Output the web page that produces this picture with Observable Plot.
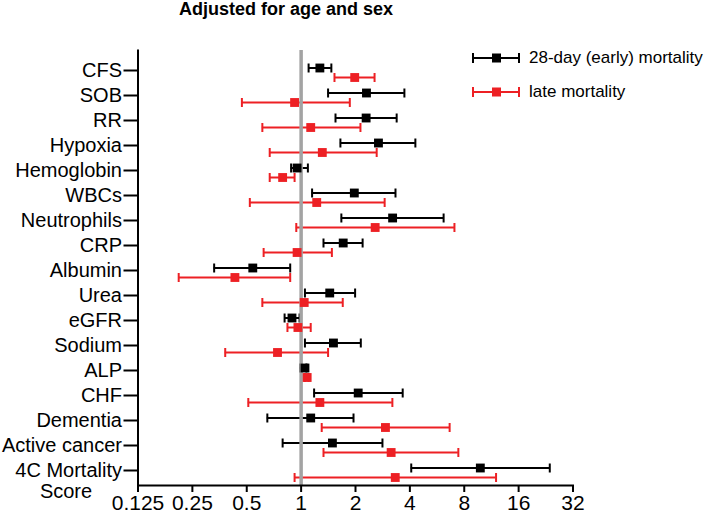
<!DOCTYPE html>
<html>
<head>
<meta charset="utf-8">
<script src="https://cdn.jsdelivr.net/npm/d3@7"></script>
<script src="https://cdn.jsdelivr.net/npm/@observablehq/plot@0.6"></script>
<style>
  html, body { margin: 0; padding: 0; background: #fff; }
  body { width: 709px; height: 513px; position: relative; overflow: hidden;
         font-family: "Liberation Sans", Arial, sans-serif; }
  #title { height: 20px; line-height: 18px; font-size: 18px; font-weight: bold;
           padding-left: 179px; color: #000; white-space: nowrap; }
  #legend { position: absolute; left: 470px; top: 41px; font-size: 17px; color: #000; }
  .row { display: flex; align-items: center; height: 34px; }
  .row svg { margin-right: 7px; }
</style>
</head>
<body>
<div id="title">Adjusted for age and sex</div>
<div id="chart"></div>
<div id="legend"></div>
<script>
// ---- data ----
const categories = ["CFS", "SOB", "RR", "Hypoxia", "Hemoglobin", "WBCs", "Neutrophils", "CRP",
  "Albumin", "Urea", "eGFR", "Sodium", "ALP", "CHF", "Dementia", "Active cancer", "4C Mortality Score"];

const earlyOR = [1.27, 2.30, 2.29, 2.68, 0.95, 1.97, 3.21, 1.71, 0.54, 1.44, 0.89, 1.51, 1.05, 2.07, 1.13, 1.49, 9.82];
const earlyLo = [1.10, 1.41, 1.55, 1.65, 0.88, 1.15, 1.67, 1.33, 0.33, 1.05, 0.81, 1.05, 0.99, 1.18, 0.65, 0.79, 4.07];
const earlyHi = [1.47, 3.73, 3.38, 4.29, 1.09, 3.33, 6.15, 2.19, 0.87, 1.99, 0.98, 2.14, 1.07, 3.65, 1.95, 2.82, 23.8];

const lateOR = [1.98, 0.92, 1.13, 1.31, 0.79, 1.22, 2.57, 0.95, 0.43, 1.04, 0.96, 0.74, 1.08, 1.27, 2.93, 3.15, 3.32];
const lateLo = [1.53, 0.47, 0.61, 0.67, 0.67, 0.52, 0.94, 0.62, 0.21, 0.61, 0.84, 0.38, 1.05, 0.51, 1.30, 1.33, 0.92];
const lateHi = [2.55, 1.86, 2.13, 2.62, 0.92, 2.90, 7.06, 1.48, 0.87, 1.70, 1.13, 1.41, 1.10, 3.20, 6.64, 7.42, 12.0];

const xTicks = [0.125, 0.25, 0.5, 1, 2, 4, 8, 16, 32];
const seriesNames = ["28-day (early) mortality", "late mortality"];
const seriesColors = ["#000000", "#ed2024"];

// ---- build tables ----
const early = categories.map((c, i) => ({cat: c, or: earlyOR[i], lo: earlyLo[i], hi: earlyHi[i]}));
const late = categories.map((c, i) => ({cat: c, or: lateOR[i], lo: lateLo[i], hi: lateHi[i]}));

const capSymbol = {
  draw(context, size) {
    const r = Math.sqrt(size / Math.PI);
    context.moveTo(0, -r);
    context.lineTo(0, r);
  }
};

function bars(data, color, dy) {
  return [
    Plot.ruleY(data, {y: "cat", x1: "lo", x2: "hi", stroke: color, strokeWidth: 2, dy}),
    Plot.dot(data, {x: "lo", y: "cat", symbol: capSymbol, r: 4.5, fill: "none", stroke: color, strokeWidth: 2, dy}),
    Plot.dot(data, {x: "hi", y: "cat", symbol: capSymbol, r: 4.5, fill: "none", stroke: color, strokeWidth: 2, dy})
  ];
}
function squares(data, color, dy) {
  return Plot.dot(data, {x: "or", y: "cat", symbol: "square", r: 5, fill: color, stroke: "none", dy});
}

const lastCat = categories[categories.length - 1];

const chart = Plot.plot({
  width: 709,
  height: 493,
  marginTop: 30,
  marginBottom: 28,
  marginLeft: 137.5,
  marginRight: 136.5,
  style: {fontFamily: "'Liberation Sans', Arial, sans-serif", color: "#000", background: "#fff", overflow: "visible"},
  x: {type: "log", base: 2, domain: [0.125, 32], ticks: xTicks, tickFormat: d => String(d)},
  y: {type: "point", domain: categories, range: [47.5, 453], padding: 0},
  marks: [
    ...bars(early, seriesColors[0], -2.5),
    ...bars(late, seriesColors[1], 7),
    Plot.ruleX([1], {stroke: "#a3a3a3", strokeWidth: 3.5}),
    squares(early, seriesColors[0], -2.5),
    squares(late, seriesColors[1], 7),
    Plot.frame({anchor: "left", stroke: "#000", strokeWidth: 2}),
    Plot.frame({anchor: "bottom", stroke: "#000", strokeWidth: 2}),
    Plot.axisX({ticks: xTicks, tickFormat: d => String(d), tickSize: 7, tickPadding: 3,
      fontSize: 21, strokeWidth: 2, label: null}),
    Plot.axisY({tickSize: 14, tickPadding: 2, fontSize: 20, strokeWidth: 2, label: null,
      tickFormat: d => d === lastCat ? "4C Mortality" : d}),
    Plot.text([lastCat], {y: d => d, text: () => "Score", frameAnchor: "left", dx: -72, dy: 21,
      textAnchor: "middle", fontSize: 20, fill: "#000"})
  ]
});
document.getElementById("chart").appendChild(chart);

// ---- legend ----
const legend = document.getElementById("legend");
seriesNames.forEach((name, i) => {
  const c = seriesColors[i];
  const row = document.createElement("div");
  row.className = "row";
  row.innerHTML =
    `<svg width="52" height="20" viewBox="0 0 52 20">
       <line x1="3" x2="49" y1="10" y2="10" stroke="${c}" stroke-width="2"/>
       <line x1="3" x2="3" y1="5" y2="15" stroke="${c}" stroke-width="2"/>
       <line x1="49" x2="49" y1="5" y2="15" stroke="${c}" stroke-width="2"/>
       <rect x="22" y="5.5" width="9" height="9" fill="${c}"/>
     </svg><span>${name}</span>`;
  legend.appendChild(row);
});
</script>
</body>
</html>
